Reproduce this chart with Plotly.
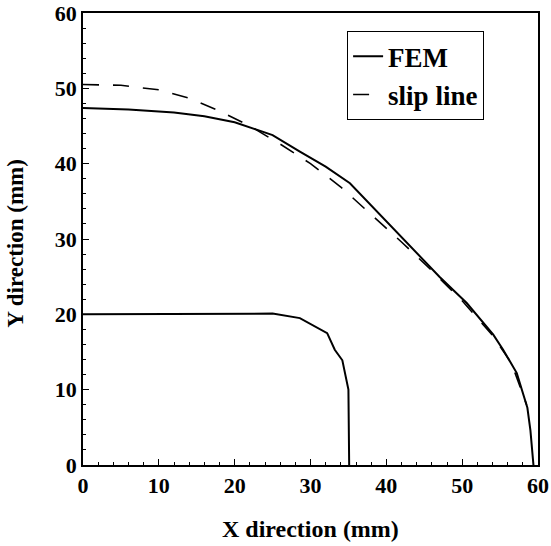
import plotly.graph_objects as go

# Outer FEM contour
fem_outer_x = [0, 6, 12, 16, 20, 25, 28.6, 32, 35.2, 38.5, 43.5, 47, 50.6, 54.1, 55.4, 57.2, 58.6, 59.0, 59.4]
fem_outer_y = [47.4, 47.2, 46.8, 46.3, 45.5, 43.8, 41.6, 39.6, 37.4, 33.9, 28.6, 25.0, 21.5, 17.3, 15.3, 12.2, 7.6, 4.6, 0.0]

# Inner FEM contour
fem_inner_x = [0, 10, 20, 25, 28.6, 32.2, 33.2, 34.2, 35.0, 35.1]
fem_inner_y = [20.0, 20.0, 20.1, 20.1, 19.5, 17.5, 15.3, 13.9, 10.0, 0.0]

# Slip line solution
slip_x = [0, 5, 10, 14, 18, 22, 26, 30, 34, 38, 42, 46, 50, 54, 56.5, 58.5]
slip_y = [50.5, 50.4, 49.8, 48.7, 47.0, 45.0, 42.6, 40.0, 36.9, 33.3, 29.6, 25.8, 21.8, 17.2, 13.5, 8.0]

x_ticks = [0, 10, 20, 30, 40, 50, 60]
y_ticks = [0, 10, 20, 30, 40, 50, 60]

x_title = "X direction (mm)"
y_title = "Y direction (mm)"

font_family = "Liberation Serif"

fig = go.Figure()
fig.add_trace(go.Scatter(x=fem_outer_x, y=fem_outer_y, mode="lines",
                         line=dict(color="black", width=2), name="<b>FEM</b>",
                         legendgroup="fem"))
fig.add_trace(go.Scatter(x=fem_inner_x, y=fem_inner_y, mode="lines",
                         line=dict(color="black", width=2), name="FEM",
                         legendgroup="fem", showlegend=False))
fig.add_trace(go.Scatter(x=slip_x, y=slip_y, mode="lines",
                         line=dict(color="black", width=1.6, dash="16px,14px"),
                         name="<b>slip line</b>"))

axis_common = dict(
    showgrid=False, zeroline=False, showline=True, linecolor="black",
    linewidth=1.8, mirror=True, ticks="inside", ticklen=6, tickwidth=1.2,
    tickcolor="black", automargin=False,
    minor=dict(ticks="inside", ticklen=3, tickwidth=1, tickcolor="black", dtick=2),
    tickfont=dict(family=font_family, size=22, color="black"),
)

fig.update_xaxes(range=[0, 60], tickvals=x_ticks,
                 ticktext=["<b>%d</b>" % v for v in x_ticks], **axis_common)
fig.update_yaxes(range=[0, 60], tickvals=y_ticks,
                 ticktext=["<b>%d</b>" % v for v in y_ticks], **axis_common)

fig.add_annotation(text="<b>%s</b>" % x_title, xref="paper", yref="paper",
                   x=0.5, y=-0.142, xanchor="center", yanchor="middle",
                   showarrow=False,
                   font=dict(family=font_family, size=24, color="black"))
fig.add_annotation(text="<b>%s</b>" % y_title, xref="paper", yref="paper",
                   x=-0.149, y=0.49, xanchor="center", yanchor="middle",
                   showarrow=False, textangle=-90,
                   font=dict(family=font_family, size=23, color="black"))

fig.update_layout(
    width=551, height=546,
    margin=dict(l=83, r=13, t=13, b=81),
    paper_bgcolor="white", plot_bgcolor="white",
    showlegend=True,
    legend=dict(x=0.58, y=0.96, xanchor="left", yanchor="top",
                bgcolor="white", bordercolor="black", borderwidth=1.2,
                font=dict(family=font_family, size=27, color="black"),
                itemwidth=30, tracegroupgap=0),
)

fig.write_html("out.html", config={"displayModeBar": False},
               post_script="document.body.style.margin='0';document.body.style.overflow='hidden';")
